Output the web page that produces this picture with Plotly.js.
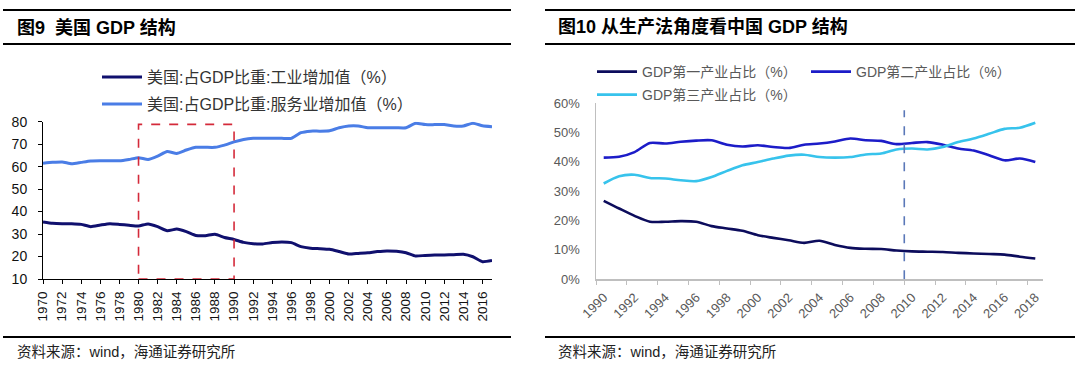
<!DOCTYPE html>
<html>
<head>
<meta charset="utf-8">
<script src="https://cdn.plot.ly/plotly-3.0.1.min.js"></script>
<style>
  html, body { margin: 0; padding: 0; background: #ffffff; }
  #chart { width: 1080px; height: 371px; }
</style>
</head>
<body>
<div id="chart"></div>
<script>
// ---------------- Data: Figure 9 (US GDP structure) ----------------
const usYears = [1970,1971,1972,1973,1974,1975,1976,1977,1978,1979,
                 1980,1981,1982,1983,1984,1985,1986,1987,1988,1989,
                 1990,1991,1992,1993,1994,1995,1996,1997,1998,1999,
                 2000,2001,2002,2003,2004,2005,2006,2007,2008,2009,
                 2010,2011,2012,2013,2014,2015,2016,2017];
const usIndustry = [35.4,34.8,34.6,34.6,34.3,33.3,34.0,34.6,34.3,33.9,
                    33.6,34.5,33.3,31.5,32.2,31.1,29.4,29.3,29.9,28.5,
                    27.6,26.3,25.7,25.6,26.2,26.5,26.2,24.4,23.7,23.5,
                    23.2,22.2,21.1,21.4,21.7,22.2,22.5,22.3,21.7,20.2,
                    20.5,20.7,20.7,20.8,21.0,19.9,17.7,18.2];
const usServices = [61.5,61.9,62.1,61.3,61.9,62.5,62.6,62.6,62.6,63.2,
                    64.0,63.2,64.7,66.7,65.9,67.4,68.6,68.6,68.6,69.6,
                    71.0,72.1,72.6,72.6,72.6,72.6,72.6,75.1,75.8,75.8,
                    76.0,77.3,78.1,78.1,77.3,77.3,77.3,77.3,77.3,79.3,
                    78.7,78.7,78.7,78.1,78.1,79.3,78.2,77.8];
const usTickYears = [1970,1972,1974,1976,1978,1980,1982,1984,1986,1988,
                     1990,1992,1994,1996,1998,2000,2002,2004,2006,2008,
                     2010,2012,2014,2016];
const usHighlight = [1980, 1990];   // red dashed box period
const usNames = ['美国:占GDP比重:工业增加值（%）', '美国:占GDP比重:服务业增加值（%）'];

// ---------------- Data: Figure 10 (China GDP structure) ----------------
const cnYears = [1990,1991,1992,1993,1994,1995,1996,1997,1998,1999,
                 2000,2001,2002,2003,2004,2005,2006,2007,2008,2009,
                 2010,2011,2012,2013,2014,2015,2016,2017,2018];
const cnPrimary = [26.7,24.1,21.6,19.6,19.6,19.8,19.6,18.1,17.3,16.5,
                   15.0,14.1,13.3,12.4,13.1,11.7,10.7,10.4,10.3,9.8,
                   9.5,9.4,9.3,9.0,8.8,8.6,8.4,7.7,7.1];
const cnSecondary = [41.4,41.7,43.3,46.4,46.2,46.8,47.2,47.3,45.8,45.2,
                     45.6,45.0,44.7,45.8,46.2,46.9,47.9,47.3,47.1,46.0,
                     46.4,46.7,45.8,44.5,43.8,42.2,40.5,41.1,39.9];
const cnTertiary = [32.6,35.1,35.6,34.5,34.3,33.7,33.4,34.8,36.9,38.8,
                    39.9,41.1,42.1,42.4,41.6,41.4,41.6,42.5,42.8,44.2,
                    44.5,44.2,45.0,46.7,47.9,49.5,51.2,51.6,53.3];
const cnTickYears = [1990,1992,1994,1996,1998,2000,2002,2004,2006,2008,
                     2010,2012,2014,2016,2018];
const cnMarkerYear = 2009.5;   // vertical dashed divider
const cnNames = ['GDP第一产业占比（%）', 'GDP第二产业占比（%）', 'GDP第三产业占比（%）'];

// ---------------- Layout helpers ----------------
const W = 1080, H = 371;
const fx = px => px / W;
const fy = py => 1 - py / H;
const FONT = 'Liberation Sans, Arial, Noto Sans CJK SC, sans-serif';
const CJK = 'Liberation Sans, Noto Sans CJK SC, sans-serif';

const traces = [
  { x: usYears, y: usIndustry, name: usNames[0], type: 'scatter', mode: 'lines',
    line: { color: '#10106e', width: 3, shape: 'spline', smoothing: 0.5 },
    xaxis: 'x', yaxis: 'y', legend: 'legend' },
  { x: usYears, y: usServices, name: usNames[1], type: 'scatter', mode: 'lines',
    line: { color: '#4a7de6', width: 3, shape: 'spline', smoothing: 0.5 },
    xaxis: 'x', yaxis: 'y', legend: 'legend2' },
  { x: cnYears, y: cnPrimary, name: cnNames[0], type: 'scatter', mode: 'lines',
    line: { color: '#0c0c5c', width: 2.6, shape: 'spline', smoothing: 0.8 },
    xaxis: 'x2', yaxis: 'y2', legend: 'legend3' },
  { x: cnYears, y: cnSecondary, name: cnNames[1], type: 'scatter', mode: 'lines',
    line: { color: '#1c1cc8', width: 2.6, shape: 'spline', smoothing: 0.8 },
    xaxis: 'x2', yaxis: 'y2', legend: 'legend4' },
  { x: cnYears, y: cnTertiary, name: cnNames[2], type: 'scatter', mode: 'lines',
    line: { color: '#37c3ec', width: 2.6, shape: 'spline', smoothing: 0.8 },
    xaxis: 'x2', yaxis: 'y2', legend: 'legend5' }
];

function legendAt(px, py, size, color) {
  return {
    x: fx(px), y: fy(py), xanchor: 'left', yanchor: 'middle',
    orientation: 'h', bgcolor: 'rgba(0,0,0,0)', borderwidth: 0,
    font: { family: CJK, size: size, color: color },
    itemwidth: 40, itemclick: false, itemdoubleclick: false
  };
}

const rule = (x0, x1, py) => ({
  type: 'line', xref: 'paper', yref: 'paper',
  x0: fx(x0), x1: fx(x1), y0: fy(py), y1: fy(py),
  line: { color: '#000000', width: 2 }
});

const layout = {
  width: W, height: H,
  margin: { l: 0, r: 0, t: 0, b: 0, pad: 0 },
  paper_bgcolor: '#ffffff', plot_bgcolor: 'rgba(0,0,0,0)',
  showlegend: true,
  font: { family: FONT, color: '#000' },
  xaxis: {
    domain: [fx(43), fx(492)], range: [1970, 2017], anchor: 'y',
    tickmode: 'array', tickvals: usTickYears, ticktext: usTickYears.map(String),
    tickangle: -90, ticks: 'outside', ticklen: 4, tickcolor: '#000', tickwidth: 1,
    showline: true, linecolor: '#000', linewidth: 1, showgrid: false, zeroline: false,
    tickfont: { family: FONT, size: 13.5, color: '#111' }, ticklabelstandoff: 2
  },
  yaxis: {
    domain: [fy(279), fy(121.7)], range: [10, 80], anchor: 'x',
    tickmode: 'linear', tick0: 10, dtick: 10,
    ticks: 'outside', ticklen: 4, tickcolor: '#000', tickwidth: 1,
    showline: true, linecolor: '#000', linewidth: 1, showgrid: false, zeroline: false,
    tickfont: { family: FONT, size: 14, color: '#111' }, ticklabelstandoff: 8
  },
  xaxis2: {
    domain: [fx(596), fx(1043)], range: [1989.5, 2018.5], anchor: 'y2',
    tickmode: 'array', tickvals: cnTickYears, ticktext: cnTickYears.map(String),
    tickangle: -45, ticks: '',
    minor: { ticks: 'outside', ticklen: 4, tickcolor: '#bfbfbf', tick0: 1989.5, dtick: 2, showgrid: false },
    showline: true, linecolor: '#bfbfbf', linewidth: 1.5, showgrid: false, zeroline: false,
    tickfont: { family: FONT, size: 13, color: '#595959' }, ticklabelstandoff: 4
  },
  yaxis2: {
    domain: [fy(279.3), fy(103)], range: [0, 60], anchor: 'x2',
    tickmode: 'linear', tick0: 0, dtick: 10, ticksuffix: '%', ticks: '',
    showline: true, linecolor: '#bfbfbf', linewidth: 1.5, showgrid: false, zeroline: false,
    tickfont: { family: FONT, size: 13, color: '#595959' }, ticklabelstandoff: 12
  },
  legend: legendAt(97, 77, 16, '#333333'),
  legend2: legendAt(97, 104, 16, '#333333'),
  legend3: legendAt(592, 72, 14, '#595959'),
  legend4: legendAt(806, 72, 14, '#595959'),
  legend5: legendAt(592, 95, 14, '#595959'),
  shapes: [
    rule(3, 511, 10), rule(3, 511, 44), rule(3, 511, 337),
    rule(545, 1075, 10), rule(545, 1075, 44), rule(545, 1075, 337),
    { type: 'rect', xref: 'x', yref: 'y',
      x0: usHighlight[0], x1: usHighlight[1], y0: 10, y1: 78.8,
      line: { color: '#d42a3a', width: 1.6, dash: 'dash' }, fillcolor: 'rgba(0,0,0,0)' },
    { type: 'line', xref: 'x2', yref: 'y2',
      x0: cnMarkerYear, x1: cnMarkerYear, y0: 0, y1: 57.5,
      line: { color: '#5a78b8', width: 1.6, dash: 'dash' } }
  ],
  annotations: [
    { xref: 'paper', yref: 'paper', x: fx(15), y: fy(27), xanchor: 'left', yanchor: 'middle',
      text: '<b>图9  美国 GDP 结构</b>', showarrow: false,
      font: { family: CJK, size: 18, color: '#000' } },
    { xref: 'paper', yref: 'paper', x: fx(556), y: fy(27), xanchor: 'left', yanchor: 'middle',
      text: '<b>图10 从生产法角度看中国 GDP 结构</b>', showarrow: false,
      font: { family: CJK, size: 18, color: '#000' } },
    { xref: 'paper', yref: 'paper', x: fx(15), y: fy(352), xanchor: 'left', yanchor: 'middle',
      text: '资料来源：wind，海通证券研究所', showarrow: false,
      font: { family: CJK, size: 14.5, color: '#222' } },
    { xref: 'paper', yref: 'paper', x: fx(556), y: fy(352), xanchor: 'left', yanchor: 'middle',
      text: '资料来源：wind，海通证券研究所', showarrow: false,
      font: { family: CJK, size: 14.5, color: '#222' } }
  ]
};

Plotly.newPlot('chart', traces, layout, { staticPlot: true, displayModeBar: false });
</script>
</body>
</html>
